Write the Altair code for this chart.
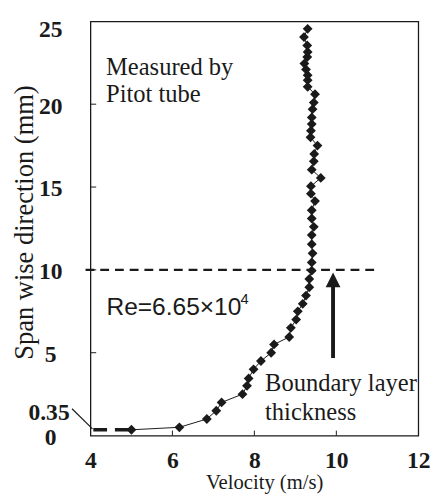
import altair as alt
import pandas as pd

# ---- measured velocity profile ----
velocity = [5.0, 6.17, 6.84, 7.07, 7.2, 7.71, 7.82, 7.86, 7.98, 8.16,
            8.41, 8.48, 8.85, 8.89, 9.02, 9.06, 9.18, 9.26, 9.34, 9.34,
            9.40, 9.40, 9.42, 9.40, 9.40, 9.45, 9.40, 9.40, 9.48, 9.38,
            9.38, 9.62, 9.40, 9.45, 9.46, 9.54, 9.37, 9.38, 9.40, 9.40,
            9.42, 9.45, 9.48, 9.30, 9.30, 9.30, 9.26, 9.22, 9.29, 9.30,
            9.29, 9.21, 9.30]
span = [0.35, 0.5, 1.0, 1.5, 2.0, 2.5, 3.0, 3.45, 4.0, 4.5,
        5.0, 5.5, 5.95, 6.5, 7.0, 7.5, 7.95, 8.45, 8.95, 9.45,
        9.95, 10.45, 11.0, 11.55, 12.1, 12.6, 13.1, 13.6, 14.15, 14.6,
        15.05, 15.55, 16.05, 16.55, 17.0, 17.5, 18.0, 18.4, 18.8, 19.2,
        19.7, 20.1, 20.6, 21.05, 21.45, 21.75, 22.1, 22.45, 22.85, 23.15,
        23.55, 24.05, 24.55]

x_ticks = [4, 6, 8, 10, 12]
y_ticks = [0, 5, 10, 15, 20, 25]
x_inner_ticks = [6, 8, 10]
y_inner_ticks = [5, 10, 15, 20]

boundary_layer = 10.0
wall_offset = 0.35

SERIF = "'Liberation Serif', 'Times New Roman', Times, 'DejaVu Serif', serif"
SANS = "'Liberation Sans', Arial, Helvetica, sans-serif"
INK = "#1a1a1a"

profile = pd.DataFrame({"v": velocity, "y": span, "i": list(range(len(span)))})

x_scale = alt.Scale(domain=[4, 12], nice=False, zero=False)
y_scale = alt.Scale(domain=[0, 25], nice=False, zero=False)

x_axis = alt.Axis(values=x_ticks, title="Velocity (m/s)", ticks=False, domain=False,
                  grid=False, labelFont=SERIF, labelFontWeight="bold", labelFontSize=24,
                  labelColor=INK, labelBaseline="alphabetic", labelPadding=33,
                  labelFlush=False, labelOverlap=False,
                  titleFont=SERIF, titleFontSize=21, titleFontWeight="normal",
                  titleColor=INK, titleX=177, titleY=54, titleBaseline="alphabetic",
                  titleAlign="center")
y_axis = alt.Axis(values=y_ticks, title="Span wise direction (mm)", ticks=False,
                  domain=False, grid=False, labelFont=SERIF, labelFontWeight="bold",
                  labelFontSize=24, labelColor=INK, labelAlign="center",
                  labelBaseline="middle", labelPadding=41, labelFlush=False,
                  labelOverlap=False,
                  labelOffset={"condition": {"test": "datum.value == 25", "value": 8},
                               "value": 2},
                  titleFont=SERIF, titleFontSize=27, titleFontWeight="normal",
                  titleColor=INK, titleAngle=270, titleX=-59, titleY=204.5,
                  titleBaseline="alphabetic", titleAlign="center")

line = alt.Chart(profile).mark_line(color=INK, strokeWidth=1).encode(
    x=alt.X("v:Q", scale=x_scale, axis=x_axis),
    y=alt.Y("y:Q", scale=y_scale, axis=y_axis),
    order="i:Q",
)
points = alt.Chart(profile).mark_point(shape="diamond", filled=True, size=100,
                                       color=INK, opacity=1).encode(
    x="v:Q", y="y:Q")

# inward ticks
xt = pd.DataFrame({"v": x_inner_ticks, "y0": [0] * len(x_inner_ticks),
                   "y1": [0.3] * len(x_inner_ticks)})
xt_rules = alt.Chart(xt).mark_rule(color=INK, strokeWidth=1).encode(
    x="v:Q", y="y0:Q", y2="y1:Q")
yt = pd.DataFrame({"y": y_inner_ticks, "x0": [4] * len(y_inner_ticks),
                   "x1": [4.14] * len(y_inner_ticks)})
yt_rules = alt.Chart(yt).mark_rule(color=INK, strokeWidth=1).encode(
    y="y:Q", x="x0:Q", x2="x1:Q")

# boundary-layer dashed line
bl = pd.DataFrame({"x0": [3.88], "x1": [11.0], "y": [boundary_layer]})
bl_rule = alt.Chart(bl).mark_rule(color=INK, strokeWidth=2.5, strokeDash=[9, 6]).encode(
    x="x0:Q", x2="x1:Q", y="y:Q")

# wall dashed segment
wall = pd.DataFrame({"x0": [4.07], "x1": [4.98], "y": [wall_offset]})
wall_rule = alt.Chart(wall).mark_rule(color=INK, strokeWidth=3.5, strokeDash=[14, 8]).encode(
    x="x0:Q", x2="x1:Q", y="y:Q")

# leader for the 0.35 label
leader = pd.DataFrame({"x0": [3.55], "y0": [1.62], "x1": [4.05], "y1": [0.4]})
leader_rule = alt.Chart(leader).mark_rule(color=INK, strokeWidth=1.2).encode(
    x="x0:Q", y="y0:Q", x2="x1:Q", y2="y1:Q")

# arrow
shaft = pd.DataFrame({"x": [9.92], "y0": [4.68], "y1": [9.1]})
shaft_rule = alt.Chart(shaft).mark_rule(color=INK, strokeWidth=4).encode(
    x="x:Q", y="y0:Q", y2="y1:Q")
head = pd.DataFrame({"x": [9.92], "y": [9.40]})
head_mark = alt.Chart(head).mark_point(shape="M0,-1L1,1L-1,1Z", filled=True, size=225,
                                       color=INK, opacity=1).encode(x="x:Q", y="y:Q")

# text annotations
serif_notes = pd.DataFrame({
    "t": ["Measured by", "Pitot tube", "Boundary layer", "thickness"],
    "x": [4.38, 4.38, 8.26, 8.26],
    "y": [21.77, 20.14, 2.71, 0.93],
})
serif_text = alt.Chart(serif_notes).mark_text(font=SERIF, fontSize=25, color=INK,
                                              align="left", baseline="alphabetic").encode(
    x="x:Q", y="y:Q", text="t:N")

re_note = pd.DataFrame({"t": ["Re=6.65×10"], "x": [4.39], "y": [7.29]})
re_text = alt.Chart(re_note).mark_text(font=SANS, fontSize=25, color=INK, align="left",
                                       baseline="alphabetic").encode(
    x="x:Q", y="y:Q", text="t:N")
sup_note = pd.DataFrame({"t": ["4"], "x": [7.66], "y": [7.94]})
sup_text = alt.Chart(sup_note).mark_text(font=SANS, fontSize=15, color=INK, align="left",
                                         baseline="alphabetic").encode(
    x="x:Q", y="y:Q", text="t:N")

label035 = pd.DataFrame({"t": ["0.35"], "x": [2.99], "y": [1.36]})
label035_text = alt.Chart(label035).mark_text(font=SERIF, fontSize=24, fontWeight="bold",
                                              color=INK, align="center",
                                              baseline="middle").encode(
    x="x:Q", y="y:Q", text="t:N")

chart = alt.layer(
    line, points, xt_rules, yt_rules, bl_rule, wall_rule, leader_rule,
    shaft_rule, head_mark, serif_text, re_text, sup_text, label035_text,
).properties(
    width=334, height=422,
    padding={"left": 84, "top": 9, "right": 16, "bottom": 59},
    autosize=alt.AutoSizeParams(type="none"),
    background="white",
).configure_view(stroke=INK, strokeWidth=1.3)

chart.save("out.html", embed_options={"renderer": "svg", "actions": False})
